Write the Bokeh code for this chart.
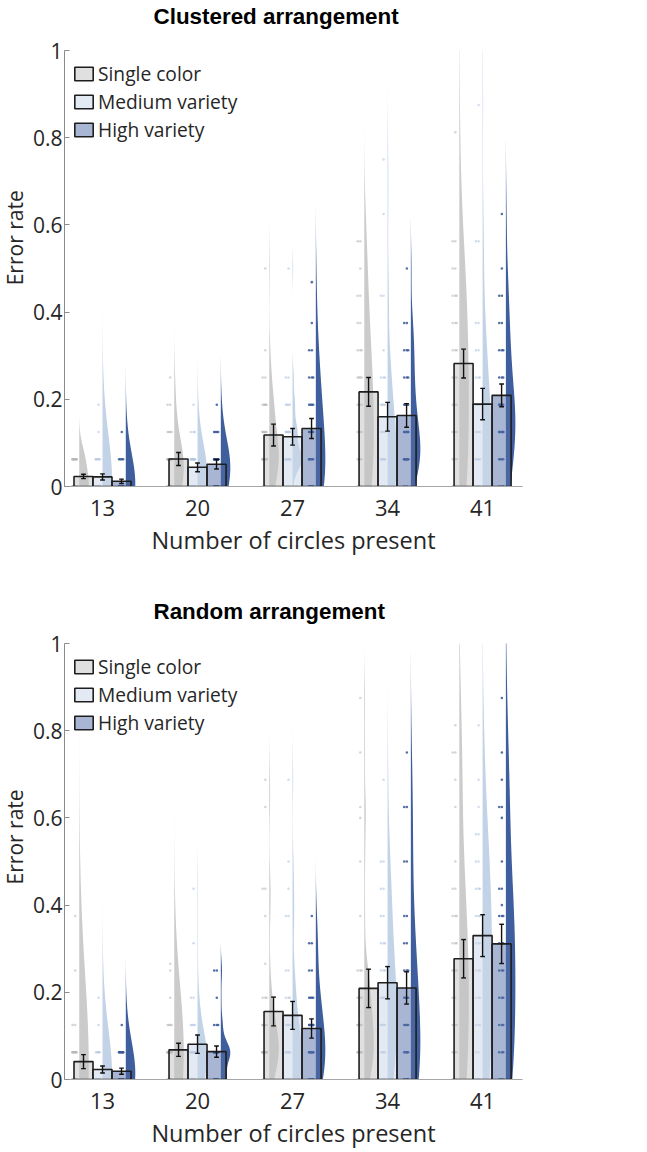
import numpy as np
from bokeh.plotting import figure
from bokeh.models import Range1d, FixedTicker, NumeralTickFormatter, Legend, LegendItem
from bokeh.core.properties import value
from bokeh.layouts import column, row
from bokeh.embed import file_html
from bokeh.resources import INLINE

# ---------------- data ----------------
groups = ["13", "20", "27", "34", "41"]
conditions = ["Single color", "Medium variety", "High variety"]
n_participants = 32

# Clustered arrangement: bar means and error-bar half-lengths
clu_single_mean = [0.023, 0.063, 0.118, 0.217, 0.282]
clu_single_err = [0.005, 0.015, 0.025, 0.033, 0.033]
clu_medium_mean = [0.022, 0.044, 0.114, 0.160, 0.189]
clu_medium_err = [0.007, 0.010, 0.019, 0.033, 0.036]
clu_high_mean = [0.012, 0.051, 0.133, 0.163, 0.209]
clu_high_err = [0.005, 0.011, 0.023, 0.027, 0.026]

# Random arrangement
ran_single_mean = [0.041, 0.068, 0.156, 0.209, 0.277]
ran_single_err = [0.016, 0.015, 0.033, 0.044, 0.044]
ran_medium_mean = [0.023, 0.081, 0.147, 0.222, 0.330]
ran_medium_err = [0.008, 0.021, 0.032, 0.037, 0.048]
ran_high_mean = [0.019, 0.064, 0.117, 0.210, 0.311]
ran_high_err = [0.007, 0.013, 0.022, 0.037, 0.045]

# Per-participant error rates (in sixteenths: {level: count}); remaining participants are 0
clu_single_dots = [
    {1: 12},
    {4: 1, 3: 2, 2: 4, 1: 14},
    {8: 1, 5: 1, 4: 2, 3: 5, 2: 6, 1: 12},
    {9: 2, 8: 1, 7: 2, 6: 2, 5: 3, 4: 4, 3: 4, 2: 4, 1: 4},
    {13: 1, 9: 2, 8: 2, 7: 3, 6: 3, 5: 3, 4: 3, 3: 3, 2: 3, 1: 3},
]
clu_medium_dots = [
    {3: 1, 2: 1, 1: 6},
    {3: 1, 2: 3, 1: 13},
    {8: 1, 4: 2, 3: 4, 2: 8, 1: 16},
    {12: 1, 10: 1, 7: 2, 5: 1, 4: 3, 3: 4, 2: 4, 1: 9},
    {14: 1, 9: 2, 6: 2, 5: 2, 4: 3, 3: 4, 2: 4, 1: 6},
]
clu_high_dots = [
    {2: 1, 1: 4},
    {3: 1, 2: 4, 1: 15},
    {7.5: 1, 6: 1, 5: 2, 4: 3, 3: 4, 2: 6, 1: 6},
    {8: 1, 6: 2, 5: 3, 4: 3, 3: 4, 2: 7, 1: 10},
    {10: 1, 8: 1, 7: 2, 6: 2, 5: 3, 4: 3, 3: 6, 2: 7, 1: 4},
]
ran_single_dots = [
    {6: 1, 4: 1, 2: 2, 1: 10},
    {4.25: 1, 4: 1, 3: 1, 2: 4, 1: 17},
    {11: 1, 10: 1, 7: 2, 6: 1, 4.25: 1, 3: 3, 2: 6, 1: 14},
    {14: 1, 12: 1, 10: 1, 9.6: 1, 8: 1, 6: 1, 4: 3, 3: 5, 2: 6, 1: 8},
    {13: 1, 12: 2, 11: 1, 10: 1, 8: 1, 7: 2, 6: 3, 5: 3, 4: 4, 3: 2, 2: 3, 1: 3},
]
ran_medium_dots = [
    {3: 1, 2: 1, 1: 5},
    {7: 1, 5: 1, 3: 2, 2: 4, 1: 15},
    {11: 1, 8: 1, 7: 1, 6: 2, 4: 2, 3: 3, 2: 5, 1: 9},
    {11: 1, 8: 2, 7: 2, 6: 2, 5: 3, 4: 3, 3: 5, 2: 6, 1: 5},
    {13: 1, 11: 1, 10: 1, 9: 2, 8: 2, 7: 3, 6: 3, 5: 3, 4: 3, 3: 3, 2: 3, 1: 2},
]
ran_high_dots = [
    {2: 1, 1: 8},
    {4: 2, 3: 1, 2: 3, 1: 16},
    {6: 1, 5: 2, 4: 2, 3: 4, 2: 7, 1: 9},
    {12: 1, 10: 2, 8: 2, 6: 2, 5: 2, 4: 3, 3: 4, 2: 4, 1: 5},
    {14: 1, 12: 1, 11: 1, 10: 2, 9.6: 1, 8: 1, 7: 2, 6.4: 1, 6: 3, 5: 3, 4: 3, 3: 3, 2: 3, 1: 3},
]

# ---------------- styling ----------------
bar_colors = ["#c2c2c2", "#c8d6e8", "#536da7"]
violin_colors = ["#cbcbcb", "#c2d2e7", "#3f5e9e"]
dot_colors = ["#b5b5b5", "#b3c7e1", "#3a5898"]
dot_alphas = [0.55, 0.6, 0.85]
bar_offsets = [-0.2, 0.0, 0.2]
violin_offsets = [-0.245, 0.0, 0.245]
BAR_W = 0.2
VIOLIN_W = 0.1
DOT_SHIFT = -0.042
JITTER = [0.0, -0.028, 0.014, -0.014]
FONT = "Open Sans"
TXT = "#262626"
W = 647
YLAB_W = 29
FRAME_TOP = 14


def expand(d):
    vals = []
    for lvl, cnt in d.items():
        vals += [lvl / 16.0] * cnt
    vals += [0.0] * (n_participants - len(vals))
    return np.array(vals, float)


def kde(vals):
    med = np.median(vals)
    sig = np.median(np.abs(vals - med)) / 0.6745
    if sig <= 0:
        sig = vals.max() - vals.min()
    h = sig * (4.0 / (3.0 * len(vals))) ** 0.2
    ys = np.linspace(vals.min() - 3 * h, vals.max() + 3 * h, 120)
    dens = np.exp(-0.5 * ((ys[:, None] - vals[None, :]) / h) ** 2).sum(axis=1)
    return ys, dens / dens.max()


def strip(width, height):
    f = figure(width=width, height=height, x_range=Range1d(0, width), y_range=Range1d(0, height),
               output_backend="svg", toolbar_location=None, x_axis_type=None, y_axis_type=None,
               min_border=0)
    f.outline_line_color = None
    f.background_fill_color = "white"
    return f


def title_strip(title, height, baseline_from_top):
    f = strip(W, height)
    f.text(x=[153], y=[height - baseline_from_top], text=[title],
           text_font=value("Liberation Sans"), text_font_style="bold",
           text_font_size="22.4px", text_color="#000000",
           text_align="left", text_baseline="alphabetic")
    return f


def ylabel_strip(height):
    f = strip(YLAB_W, height)
    f.text(x=[YLAB_W / 2], y=[height - FRAME_TOP - 218], text=["Error rate"], angle=np.pi / 2,
           text_font=value(FONT), text_font_size="21px", text_color=TXT,
           text_align="center", text_baseline="middle")
    return f


def make_panel(means, errs, dots, height, bottom):
    p = figure(width=W - YLAB_W, height=height, x_range=Range1d(0.6, 5.42), y_range=Range1d(0, 1),
               output_backend="svg", toolbar_location=None,
               min_border_left=62 - YLAB_W, min_border_right=125,
               min_border_top=FRAME_TOP, min_border_bottom=bottom)
    p.outline_line_color = None
    p.xgrid.visible = False
    p.ygrid.visible = False
    p.background_fill_color = "white"

    xc = np.arange(len(groups)) + 1.0

    # violins (clouds)
    vx, vy, vc = [], [], []
    for ci in range(3):
        for gi in range(len(groups)):
            vals = expand(dots[ci][gi])
            ys, w = kde(vals)
            base = xc[gi] + violin_offsets[ci]
            xs = np.concatenate([[base], base + VIOLIN_W * w, [base]])
            yy = np.concatenate([[ys[0]], ys, [ys[-1]]])
            vx.append(list(xs))
            vy.append(list(yy))
            vc.append(violin_colors[ci])
    p.patches(vx, vy, fill_color=vc, line_color=None, fill_alpha=1.0)

    # dots (rain)
    for ci in range(3):
        dxs, dys = [], []
        for gi in range(len(groups)):
            vals = expand(dots[ci][gi])
            seen = {}
            for v in vals:
                k = seen.get(v, 0)
                seen[v] = k + 1
                dxs.append(xc[gi] + violin_offsets[ci] + DOT_SHIFT + JITTER[k % len(JITTER)])
                dys.append(v)
        p.scatter(dxs, dys, size=2.6, color=dot_colors[ci], alpha=dot_alphas[ci], line_color=None)

    # bars
    bar_renderers = []
    for ci in range(3):
        r = p.vbar(x=xc + bar_offsets[ci], top=means[ci], width=BAR_W, bottom=0,
                   fill_color=bar_colors[ci], fill_alpha=0.5,
                   line_color="#1e1e1e", line_width=1.6)
        bar_renderers.append(r)

    # error bars
    for ci in range(3):
        m = np.array(means[ci])
        e = np.array(errs[ci])
        x = xc + bar_offsets[ci]
        p.segment(x0=x, y0=m - e, x1=x, y1=m + e, line_color="#111111", line_width=1.4)
        p.segment(x0=x - 0.025, y0=m - e, x1=x + 0.025, y1=m - e, line_color="#111111", line_width=1.4)
        p.segment(x0=x - 0.025, y0=m + e, x1=x + 0.025, y1=m + e, line_color="#111111", line_width=1.4)

    # axes
    xa = p.xaxis[0]
    xa.ticker = FixedTicker(ticks=list(xc))
    xa.major_label_overrides = {int(v): g for v, g in zip(xc, groups)}
    xa.axis_label = "Number of circles present"
    xa.major_tick_in = 0
    xa.major_tick_out = 0
    xa.minor_tick_line_color = None
    xa.axis_line_color = "#a6a6a6"
    xa.axis_line_width = 1.2
    xa.major_label_standoff = 13
    xa.axis_label_standoff = 5

    ya = p.yaxis[0]
    ya.ticker = FixedTicker(ticks=[0, 0.2, 0.4, 0.6, 0.8, 1.0])
    ya.formatter = NumeralTickFormatter(format="0.[0]")
    ya.major_tick_in = 5
    ya.major_tick_out = 0
    ya.major_tick_line_color = "#8c8c8c"
    ya.minor_tick_line_color = None
    ya.axis_line_color = "#8c8c8c"
    ya.major_label_standoff = 2

    for ax in (xa, ya):
        ax.major_label_text_font = FONT
        ax.major_label_text_font_size = "22px"
        ax.major_label_text_color = TXT
        ax.axis_label_text_font = FONT
        ax.axis_label_text_font_size = "23.5px"
        ax.axis_label_text_font_style = "normal"
        ax.axis_label_text_color = TXT
    ya.major_label_text_font_size = "21px"

    legend = Legend(items=[LegendItem(label=conditions[i], renderers=[bar_renderers[i]]) for i in range(3)],
                    location=(8, 343), padding=0, spacing=1, margin=0,
                    glyph_width=23, glyph_height=17, label_standoff=3,
                    label_text_font=FONT, label_text_font_size="19.2px", label_text_color=TXT,
                    border_line_color=None, background_fill_alpha=0)
    p.add_layout(legend)
    return p


T1_H = 36
P1_H = 576 - T1_H
T2_H = 67 - FRAME_TOP
P2_H = 576 - T2_H

t1 = title_strip("Clustered arrangement", T1_H, 15.5)
p1 = make_panel([clu_single_mean, clu_medium_mean, clu_high_mean],
                [clu_single_err, clu_medium_err, clu_high_err],
                [clu_single_dots, clu_medium_dots, clu_high_dots], P1_H, 90)
t2 = title_strip("Random arrangement", T2_H, 34.5)
p2 = make_panel([ran_single_mean, ran_medium_mean, ran_high_mean],
                [ran_single_err, ran_medium_err, ran_high_err],
                [ran_single_dots, ran_medium_dots, ran_high_dots], P2_H, 73)

layout = column(t1, row(ylabel_strip(P1_H), p1, spacing=0),
                t2, row(ylabel_strip(P2_H), p2, spacing=0), spacing=0)
open("out.html", "w").write(file_html(layout, INLINE))
